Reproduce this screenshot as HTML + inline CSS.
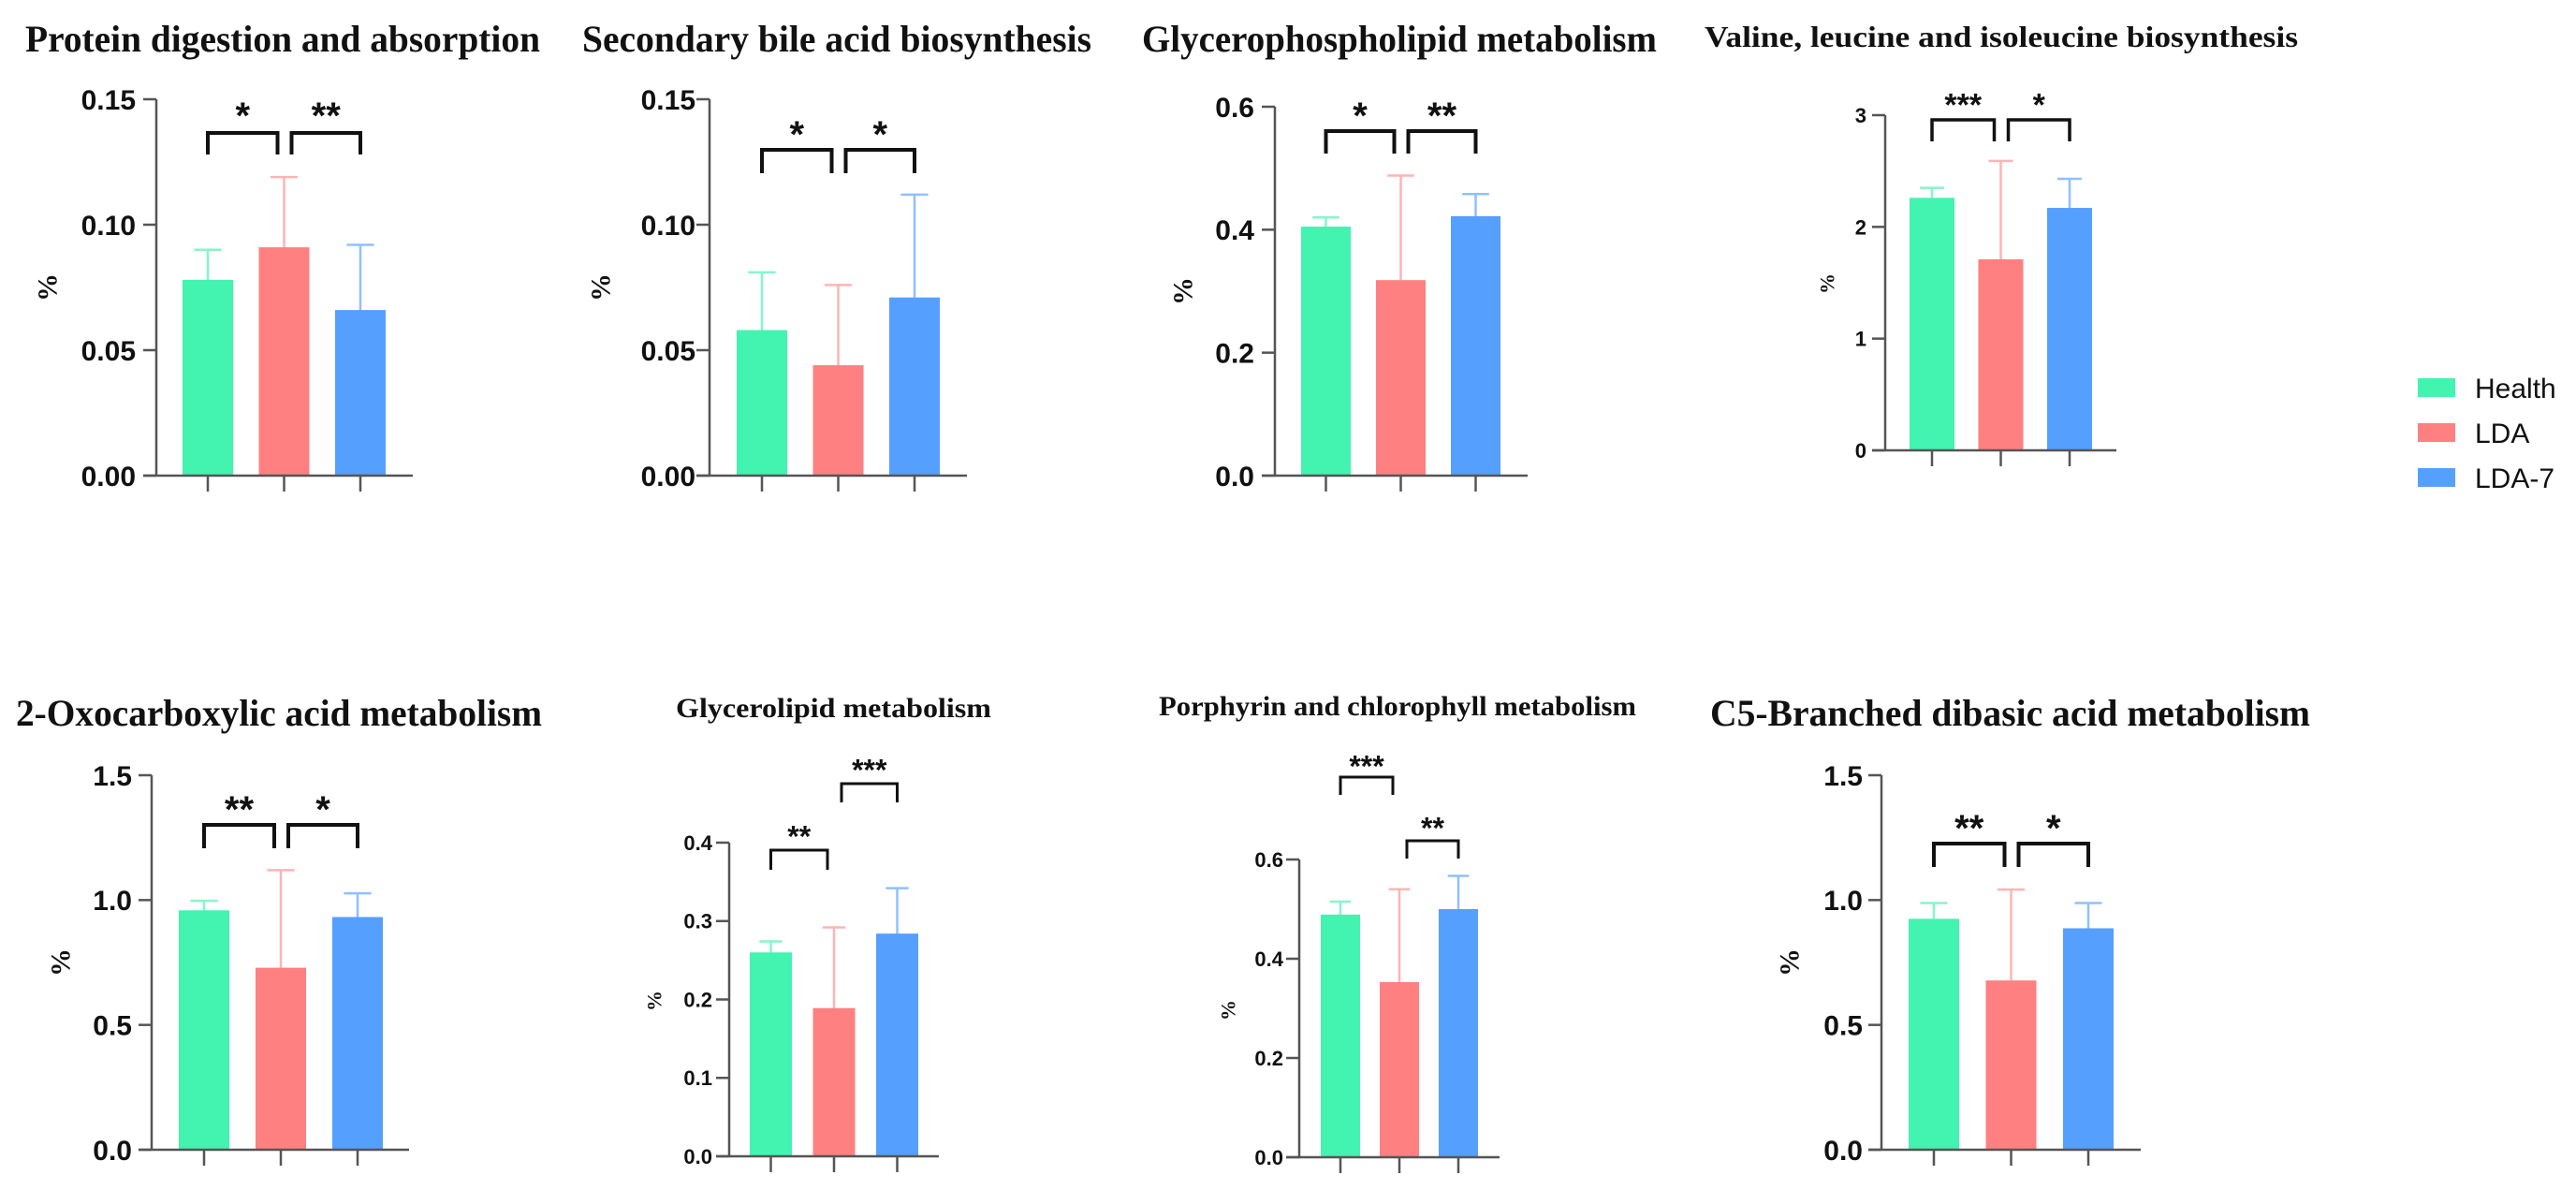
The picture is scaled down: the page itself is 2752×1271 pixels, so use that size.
<!DOCTYPE html>
<html><head><meta charset="utf-8"><style>
html,body{margin:0;padding:0;background:#fff;}
svg{display:block;}
</style></head><body>
<svg id="fig" width="2752" height="1271" viewBox="0 0 2752 1271" xmlns="http://www.w3.org/2000/svg"></svg>
<script>
const categories = ["Health", "LDA", "LDA-7"];
const p1Means = [0.078, 0.091, 0.066]; const p1Errs = [0.090, 0.119, 0.092]; const p1Ticks = [0, 0.05, 0.10, 0.15]; const p1TickLabels = ["0.00","0.05","0.10","0.15"];
const p2Means = [0.058, 0.044, 0.071]; const p2Errs = [0.081, 0.076, 0.112]; const p2Ticks = [0, 0.05, 0.10, 0.15]; const p2TickLabels = ["0.00","0.05","0.10","0.15"];
const p3Means = [0.405, 0.318, 0.422]; const p3Errs = [0.420, 0.488, 0.458]; const p3Ticks = [0, 0.2, 0.4, 0.6]; const p3TickLabels = ["0.0","0.2","0.4","0.6"];
const p4Means = [2.26, 1.71, 2.17]; const p4Errs = [2.35, 2.59, 2.43]; const p4Ticks = [0, 1, 2, 3]; const p4TickLabels = ["0","1","2","3"];
const p5Means = [0.959, 0.729, 0.932]; const p5Errs = [0.997, 1.12, 1.027]; const p5Ticks = [0, 0.5, 1.0, 1.5]; const p5TickLabels = ["0.0","0.5","1.0","1.5"];
const p6Means = [0.260, 0.189, 0.284]; const p6Errs = [0.274, 0.292, 0.342]; const p6Ticks = [0, 0.1, 0.2, 0.3, 0.4]; const p6TickLabels = ["0.0","0.1","0.2","0.3","0.4"];
const p7Means = [0.489, 0.353, 0.500]; const p7Errs = [0.515, 0.540, 0.567]; const p7Ticks = [0, 0.2, 0.4, 0.6]; const p7TickLabels = ["0.0","0.2","0.4","0.6"];
const p8Means = [0.925, 0.678, 0.887]; const p8Errs = [0.988, 1.042, 0.988]; const p8Ticks = [0, 0.5, 1.0, 1.5]; const p8TickLabels = ["0.0","0.5","1.0","1.5"];
const p1Sig = ["*", "**"]; const p2Sig = ["*", "*"]; const p3Sig = ["*", "**"]; const p4Sig = ["***", "*"];
const p5Sig = ["**", "*"]; const p6Sig = ["**", "***"]; const p7Sig = ["***", "**"]; const p8Sig = ["**", "*"];
const titles = ["Protein digestion and absorption","Secondary bile acid biosynthesis","Glycerophospholipid metabolism","Valine, leucine and isoleucine biosynthesis","2-Oxocarboxylic acid metabolism","Glycerolipid metabolism","Porphyrin and chlorophyll metabolism","C5-Branched dibasic acid metabolism"];

const colors = ["#43F3B0", "#FF8080", "#559FFF"];
const errColors = ["#86F5CB", "#FFB4B4", "#8FC0FF"];
const NS = "http://www.w3.org/2000/svg";
const svg = document.getElementById("fig");
function mk(tag, attrs, parent) {
  const e = document.createElementNS(NS, tag);
  for (const k in attrs) e.setAttribute(k, attrs[k]);
  (parent || svg).appendChild(e);
  return e;
}
// layout config (pixel geometry only)
const layouts = [
  {ax:167, top:106, zero:508, x0:195, bw:54, step:81.5, end:441, lr:145, t:[27,577,55,40], pct:[51,307,30], tf:30, br:[[142,165,114],[142,165,114]], bw2:4, sf:40},
  {ax:758, top:106, zero:508, x0:787, bw:54, step:81.5, end:1033, lr:743, t:[622,1166,55,40], pct:[642,307,30], tf:30, br:[[160,185,134],[160,185,134]], bw2:4, sf:40},
  {ax:1362, top:114, zero:508, x0:1390, bw:53, step:80, end:1632, lr:1340, t:[1220,1770,55,40], pct:[1264,311,30], tf:30, br:[[140,164,114],[140,164,114]], bw2:4, sf:40},
  {ax:2014, top:123, zero:481, x0:2040, bw:48, step:73.5, end:2261, lr:1994, t:[1821,2455,50,32], pct:[1952,303,22], tf:22, br:[[128,151,104],[128,151,104]], bw2:3.5, sf:34},
  {ax:162, top:828, zero:1228, x0:191, bw:54, step:82, end:437, lr:141, t:[17,579,775,40], pct:[65,1028,30], tf:30, br:[[881,906,855],[881,906,855]], bw2:4, sf:40},
  {ax:779, top:900, zero:1235, x0:801, bw:45, step:67.5, end:1003, lr:761, t:[722,1059,766,30], pct:[699,1069,22], tf:22, br:[[908,929,886],[837,857,815]], bw2:3, sf:32},
  {ax:1388, top:918, zero:1236, x0:1411, bw:42, step:63, end:1602, lr:1371, t:[1238,1748,764,30], pct:[1312,1079,22], tf:22, br:[[830,849,811],[898,917,877]], bw2:3, sf:32},
  {ax:2010, top:828, zero:1228, x0:2039, bw:54, step:82.5, end:2287, lr:1990, t:[1827,2468,775,40], pct:[1912,1028,30], tf:30, br:[[901,926,875],[901,926,875]], bw2:4, sf:40}
];
const meansAll = [p1Means,p2Means,p3Means,p4Means,p5Means,p6Means,p7Means,p8Means];
const errsAll = [p1Errs,p2Errs,p3Errs,p4Errs,p5Errs,p6Errs,p7Errs,p8Errs];
const ticksAll = [p1Ticks,p2Ticks,p3Ticks,p4Ticks,p5Ticks,p6Ticks,p7Ticks,p8Ticks];
const tickLabAll = [p1TickLabels,p2TickLabels,p3TickLabels,p4TickLabels,p5TickLabels,p6TickLabels,p7TickLabels,p8TickLabels];
const sigAll = [p1Sig,p2Sig,p3Sig,p4Sig,p5Sig,p6Sig,p7Sig,p8Sig];

layouts.forEach((L, pi) => {
  const g = mk("g", {});
  
  
  const tks = ticksAll[pi];
  const ymax = tks[tks.length - 1];
  const y = v => L.zero - (v / ymax) * (L.zero - L.top);
  const xc = i => L.x0 + L.bw / 2 + i * L.step;
  // title
  const tt = mk("text", {x: L.t[0], y: L.t[2], "font-family": "Liberation Serif, serif", "font-weight": "bold", "font-size": L.t[3], fill: "#111", textLength: L.t[1] - L.t[0], lengthAdjust: "spacingAndGlyphs"}, g);
  tt.textContent = titles[pi];
  
  
  // y label
  const pl = mk("text", {x: L.pct[0], y: L.pct[1], transform: `rotate(-90 ${L.pct[0]} ${L.pct[1]})`, "text-anchor": "middle", "dominant-baseline": "central", "font-family": "Liberation Serif, serif", "font-weight": "bold", "font-size": L.pct[2], fill: "#111"}, g);
  pl.textContent = "%";
  
  
  // bars
  meansAll[pi].forEach((m, i) => {
    const e = errsAll[pi][i];
    const el = mk("line", {x1: xc(i), x2: xc(i), y1: y(m), y2: y(e), stroke: errColors[i], "stroke-width": 2.5}, g);
    
    
    const cap = mk("line", {x1: xc(i) - L.bw * 0.27, x2: xc(i) + L.bw * 0.27, y1: y(e), y2: y(e), stroke: errColors[i], "stroke-width": 2.5}, g);
    
    
    const r = mk("rect", {x: L.x0 + i * L.step, y: y(m), width: L.bw, height: L.zero - y(m), fill: colors[i]}, g);
    
    
  });
  // axes
  const ya = mk("line", {x1: L.ax, x2: L.ax, y1: L.top, y2: L.zero, stroke: "#555", "stroke-width": 2.5}, g);
  
  
  const xa = mk("line", {x1: L.ax - 14, x2: L.end, y1: L.zero, y2: L.zero, stroke: "#555", "stroke-width": 2.5}, g);
  
  
  tks.forEach((t, k) => {
    const tl = mk("line", {x1: L.ax - 14, x2: L.ax, y1: y(t), y2: y(t), stroke: "#555", "stroke-width": 2.5}, g);
    
    
    const lab = mk("text", {x: L.lr, y: y(t), "text-anchor": "end", dy: "0.36em", "font-family": "Liberation Sans, sans-serif", "font-weight": "bold", "font-size": L.tf, fill: "#111"}, g);
    lab.textContent = tickLabAll[pi][k];
    
    
  });
  categories.forEach((c, i) => {
    const xt = mk("line", {x1: xc(i), x2: xc(i), y1: L.zero, y2: L.zero + 17, stroke: "#555", "stroke-width": 2.5}, g);
    
    
  });
  // significance brackets
  sigAll[pi].forEach((s, j) => {
    const b = L.br[j];
    const xa1 = xc(j) + (j === 1 ? 8 : 0), xb1 = xc(j + 1) - (j === 0 ? 7 : 0);
    const p = mk("path", {d: `M${xa1} ${b[1]} V${b[0]} H${xb1} V${b[1]}`, fill: "none", stroke: "#111", "stroke-width": L.bw2}, g);
    
    
    const st = mk("text", {x: (xa1 + xb1) / 2, y: b[2] + L.sf * 0.58, "text-anchor": "middle", "font-family": "Liberation Sans, sans-serif", "font-weight": "bold", "font-size": L.sf, fill: "#111"}, g);
    st.textContent = s;
    
    
  });
});
// legend
const legY = [414, 462, 510];
categories.forEach((c, i) => {
  const lg = mk("g", {});
  
  
  mk("rect", {x: 2583, y: legY[i] - 10, width: 40, height: 20, fill: colors[i]}, lg);
  const t = mk("text", {x: 2644, y: legY[i], dy: "0.36em", "font-family": "Liberation Sans, sans-serif", "font-size": 30, fill: "#111"}, lg);
  t.textContent = c;
});
</script>
</body></html>
